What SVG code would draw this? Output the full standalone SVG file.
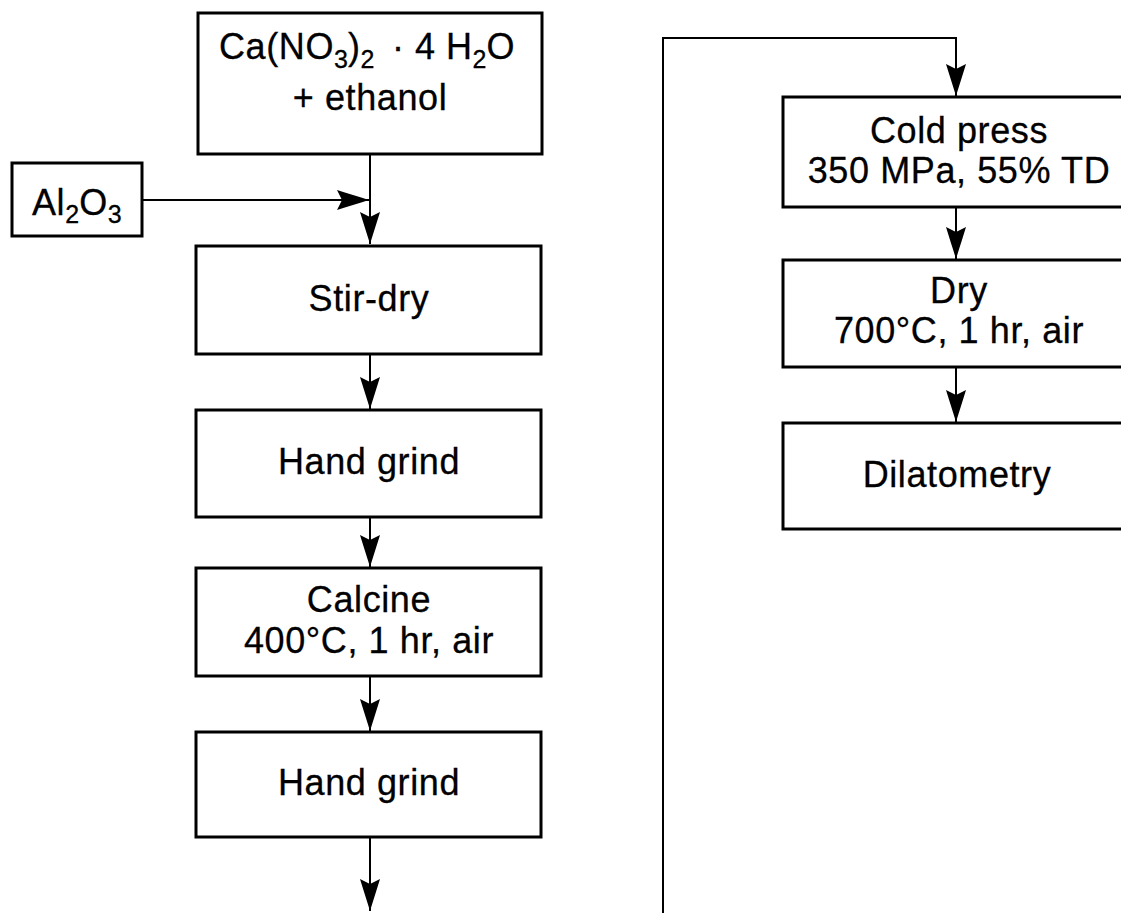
<svg xmlns="http://www.w3.org/2000/svg" width="1121" height="913" viewBox="0 0 1121 913">
<defs>
<style>
.box{fill:none;stroke:#000;stroke-width:3}
.ln{fill:none;stroke:#000;stroke-width:2}
.t{font-family:"Liberation Sans",Arial,sans-serif;font-size:36px;letter-spacing:0.6px;fill:#000;stroke:#000;stroke-width:0.3}
.c{text-anchor:middle}
.sub{font-size:25px;letter-spacing:0}
</style>
<marker id="ah" markerUnits="userSpaceOnUse" markerWidth="36" markerHeight="24" viewBox="-34 -12 36 24" refX="0" refY="0" orient="auto">
<path d="M0,0 C-10,-3 -22,-7 -32,-10 L-27,0 L-32,10 C-22,7 -10,3 0,0 Z" fill="#000"/>
</marker>
</defs>
<rect width="1121" height="913" fill="#fff"/>
<g id="connectors">
<line class="ln" x1="370" y1="154" x2="370" y2="244" marker-end="url(#ah)"/>
<line class="ln" x1="142" y1="200" x2="369" y2="200" marker-end="url(#ah)"/>
<line class="ln" x1="370" y1="354" x2="370" y2="409" marker-end="url(#ah)"/>
<line class="ln" x1="370" y1="517" x2="370" y2="567" marker-end="url(#ah)"/>
<line class="ln" x1="370" y1="676" x2="370" y2="731" marker-end="url(#ah)"/>
<line class="ln" x1="370" y1="837" x2="370" y2="911" marker-end="url(#ah)"/>
<polyline class="ln" points="663,913 663,38 956,38 956,96" marker-end="url(#ah)"/>
<line class="ln" x1="956" y1="207" x2="956" y2="259" marker-end="url(#ah)"/>
<line class="ln" x1="956" y1="367" x2="956" y2="422" marker-end="url(#ah)"/>
</g>
<g id="n-start">
<rect class="box" x="198" y="13" width="344" height="141"/>
<text class="t" x="219" y="59">Ca(NO<tspan class="sub" dy="9">3</tspan><tspan dy="-9">)</tspan><tspan class="sub" dy="9">2</tspan><tspan x="392" dy="-9">·</tspan><tspan x="415">4</tspan><tspan x="446">H</tspan><tspan class="sub" dy="9">2</tspan><tspan dy="-9">O</tspan></text>
<text class="t c" x="370" y="110">+ ethanol</text>
</g>
<g id="n-al2o3">
<rect class="box" x="12" y="163" width="130" height="73"/>
<text class="t" x="32" y="215">Al<tspan class="sub" dy="8">2</tspan><tspan dy="-8">O</tspan><tspan class="sub" dy="8">3</tspan></text>
</g>
<g id="n-stirdry">
<rect class="box" x="196" y="246" width="345" height="108"/>
<text class="t c" x="369" y="311">Stir-dry</text>
</g>
<g id="n-grind1">
<rect class="box" x="196" y="410" width="345" height="107"/>
<text class="t c" x="369" y="474">Hand grind</text>
</g>
<g id="n-calcine">
<rect class="box" x="196" y="568" width="345" height="108"/>
<text class="t c" x="369" y="612">Calcine</text>
<text class="t c" x="369" y="653">400°C, 1 hr, air</text>
</g>
<g id="n-grind2">
<rect class="box" x="196" y="732" width="345" height="105"/>
<text class="t c" x="369" y="795">Hand grind</text>
</g>
<g id="n-coldpress">
<rect class="box" x="783" y="97" width="350" height="110"/>
<text class="t c" x="959" y="143">Cold press</text>
<text class="t c" x="959" y="183">350 MPa, 55% TD</text>
</g>
<g id="n-dry">
<rect class="box" x="783" y="260" width="350" height="107"/>
<text class="t c" x="959" y="303">Dry</text>
<text class="t c" x="959" y="343">700°C, 1 hr, air</text>
</g>
<g id="n-dilatometry">
<rect class="box" x="783" y="423" width="350" height="106"/>
<text class="t c" x="957" y="487">Dilatometry</text>
</g>
</svg>
